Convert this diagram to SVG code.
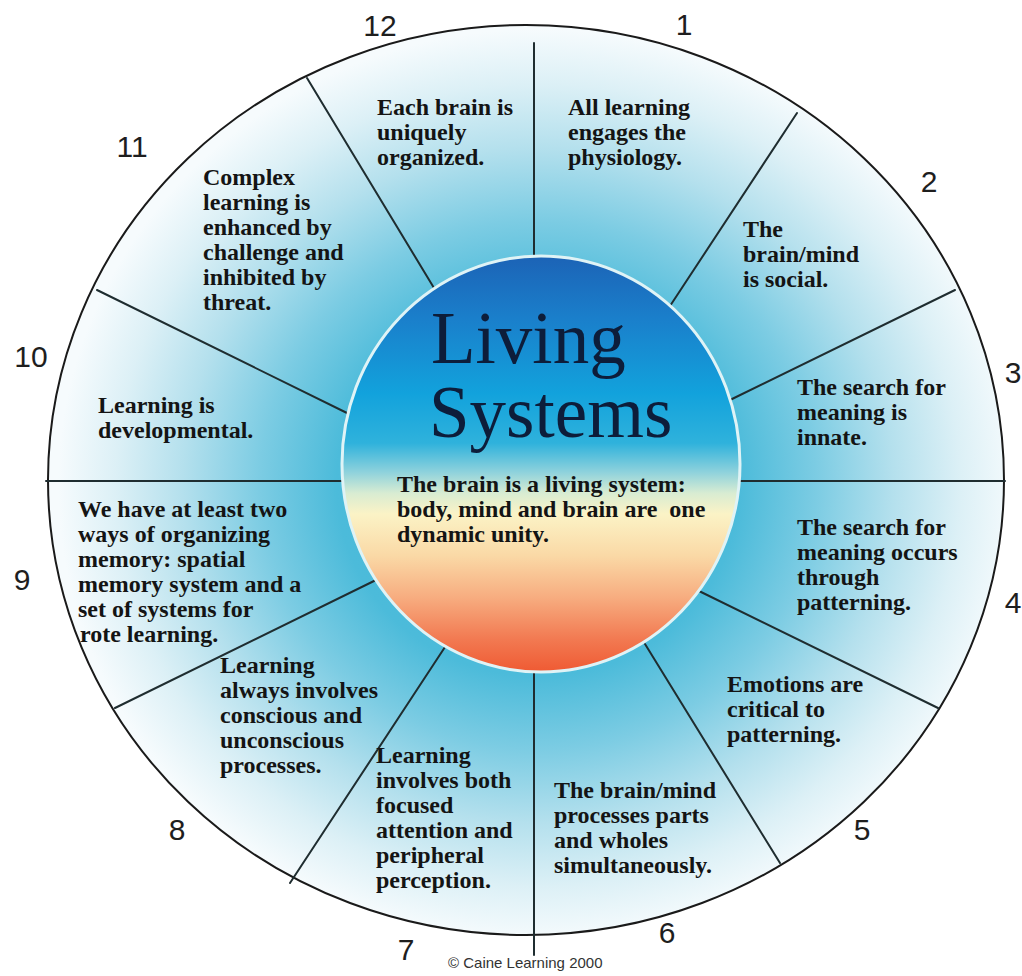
<svg xmlns="http://www.w3.org/2000/svg" width="1022" height="976" viewBox="0 0 1022 976">
  <style>
    .num { font-family: "Liberation Sans", Arial, sans-serif; font-size: 30px; fill: #1e1e1e; text-anchor: middle; }
    .body { font-family: "Liberation Serif", "Times New Roman", serif; font-size: 24px; font-weight: bold; fill: #141414; }
    .title { font-family: "Liberation Serif", "Times New Roman", serif; font-size: 73px; fill: #0d1d3a; }
    .spoke { stroke: #1f2d30; stroke-width: 2; fill: none; stroke-linecap: round; }
    .copy { font-family: "Liberation Sans", Arial, sans-serif; font-size: 15px; fill: #333; }
  </style>
  <defs>
    <radialGradient id="ringGrad" gradientUnits="userSpaceOnUse" cx="538" cy="485" r="480" gradientTransform="translate(538 485) scale(1 0.95) translate(-538 -485)">
      <stop offset="0" stop-color="#3fb4d8"/>
      <stop offset="0.42" stop-color="#4cbbda"/>
      <stop offset="0.58" stop-color="#7ccce3"/>
      <stop offset="0.74" stop-color="#b4e0ed"/>
      <stop offset="0.88" stop-color="#dcf0f6"/>
      <stop offset="1" stop-color="#f6fbfd"/>
    </radialGradient>
    <linearGradient id="coreGrad" x1="0" y1="0" x2="0" y2="1">
      <stop offset="0" stop-color="#1c63b6"/>
      <stop offset="0.15" stop-color="#1a7fcb"/>
      <stop offset="0.33" stop-color="#12a2dc"/>
      <stop offset="0.45" stop-color="#2fb2dc"/>
      <stop offset="0.52" stop-color="#8fd2dc"/>
      <stop offset="0.57" stop-color="#d8ecd2"/>
      <stop offset="0.62" stop-color="#fbf3c6"/>
      <stop offset="0.72" stop-color="#fad9a6"/>
      <stop offset="0.82" stop-color="#f7ad80"/>
      <stop offset="0.92" stop-color="#f27a52"/>
      <stop offset="1" stop-color="#ef5a33"/>
    </linearGradient>
  </defs>

  <rect x="0" y="0" width="1022" height="976" fill="#ffffff"/>

  <g id="wheel">
    <ellipse cx="526" cy="480" rx="478" ry="455" fill="url(#ringGrad)" stroke="#1a1a1a" stroke-width="2"/>
  </g>

  <g id="spokes">
    <line class="spoke" x1="534" y1="43" x2="534" y2="258"/>
    <line class="spoke" x1="797" y1="113" x2="670" y2="306"/>
    <line class="spoke" x1="955" y1="290" x2="730" y2="400"/>
    <line class="spoke" x1="1005" y1="481" x2="737" y2="481"/>
    <line class="spoke" x1="938" y1="708" x2="699" y2="591"/>
    <line class="spoke" x1="780" y1="863" x2="645" y2="644"/>
    <line class="spoke" x1="534" y1="955" x2="534" y2="669"/>
    <line class="spoke" x1="290" y1="883" x2="445" y2="647"/>
    <line class="spoke" x1="115" y1="708" x2="376" y2="580"/>
    <line class="spoke" x1="46" y1="481" x2="345" y2="481"/>
    <line class="spoke" x1="97" y1="290" x2="349" y2="414"/>
    <line class="spoke" x1="307" y1="78" x2="434" y2="288"/>
  </g>

  <g id="core">
    <ellipse cx="541" cy="464" rx="199" ry="208" fill="url(#coreGrad)" stroke="#dff3f6" stroke-width="3"/>
    <text class="title" x="431" y="363">Living</text>
    <text class="title" x="429" y="437">Systems</text>
    <text class="body" x="397" y="492">The brain is a living system:<tspan x="397" dy="25">body, mind and brain are&#160; one</tspan><tspan x="397" dy="25">dynamic unity.</tspan></text>
  </g>

  <g id="p1">
    <text class="num" x="684" y="35">1</text>
    <text class="body" x="568" y="115">All learning<tspan x="568" dy="25">engages the</tspan><tspan x="568" dy="25">physiology.</tspan></text>
  </g>
  <g id="p2">
    <text class="num" x="929" y="192">2</text>
    <text class="body" x="743" y="237">The<tspan x="743" dy="25">brain/mind</tspan><tspan x="743" dy="25">is social.</tspan></text>
  </g>
  <g id="p3">
    <text class="num" x="1013" y="383">3</text>
    <text class="body" x="797" y="395">The search for<tspan x="797" dy="25">meaning is</tspan><tspan x="797" dy="25">innate.</tspan></text>
  </g>
  <g id="p4">
    <text class="num" x="1013" y="613">4</text>
    <text class="body" x="797" y="535">The search for<tspan x="797" dy="25">meaning occurs</tspan><tspan x="797" dy="25">through</tspan><tspan x="797" dy="25">patterning.</tspan></text>
  </g>
  <g id="p5">
    <text class="num" x="862" y="840">5</text>
    <text class="body" x="727" y="692">Emotions are<tspan x="727" dy="25">critical to</tspan><tspan x="727" dy="25">patterning.</tspan></text>
  </g>
  <g id="p6">
    <text class="num" x="667" y="943">6</text>
    <text class="body" x="554" y="798">The brain/mind<tspan x="554" dy="25">processes parts</tspan><tspan x="554" dy="25">and wholes</tspan><tspan x="554" dy="25">simultaneously.</tspan></text>
  </g>
  <g id="p7">
    <text class="num" x="406" y="960">7</text>
    <text class="body" x="376" y="763">Learning<tspan x="376" dy="25">involves both</tspan><tspan x="376" dy="25">focused</tspan><tspan x="376" dy="25">attention and</tspan><tspan x="376" dy="25">peripheral</tspan><tspan x="376" dy="25">perception.</tspan></text>
  </g>
  <g id="p8">
    <text class="num" x="177" y="840">8</text>
    <text class="body" x="220" y="673">Learning<tspan x="220" dy="25">always involves</tspan><tspan x="220" dy="25">conscious and</tspan><tspan x="220" dy="25">unconscious</tspan><tspan x="220" dy="25">processes.</tspan></text>
  </g>
  <g id="p9">
    <text class="num" x="22" y="590">9</text>
    <text class="body" x="78" y="517">We have at least two<tspan x="78" dy="25">ways of organizing</tspan><tspan x="78" dy="25">memory: spatial</tspan><tspan x="78" dy="25">memory system and a</tspan><tspan x="78" dy="25">set of systems for</tspan><tspan x="80" dy="25">rote learning.</tspan></text>
  </g>
  <g id="p10">
    <text class="num" x="31" y="367">10</text>
    <text class="body" x="98" y="413">Learning is<tspan x="98" dy="25">developmental.</tspan></text>
  </g>
  <g id="p11">
    <text class="num" x="132" y="157">11</text>
    <text class="body" x="203" y="185">Complex<tspan x="203" dy="25">learning is</tspan><tspan x="203" dy="25">enhanced by</tspan><tspan x="203" dy="25">challenge and</tspan><tspan x="203" dy="25">inhibited by</tspan><tspan x="203" dy="25">threat.</tspan></text>
  </g>
  <g id="p12">
    <text class="num" x="380" y="36">12</text>
    <text class="body" x="377" y="115">Each brain is<tspan x="377" dy="25">uniquely</tspan><tspan x="377" dy="25">organized.</tspan></text>
  </g>

  <text class="copy" x="448" y="968">© Caine Learning 2000</text>
</svg>
